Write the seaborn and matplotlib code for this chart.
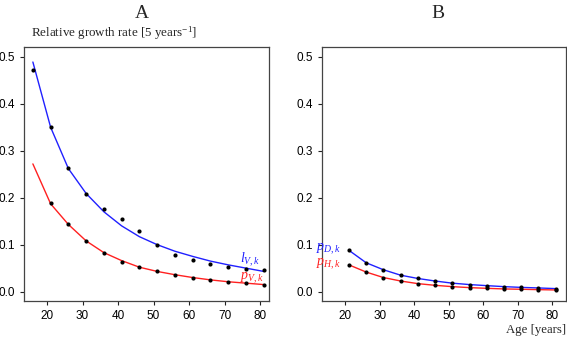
import numpy as np
import pandas as pd
import seaborn as sns
import matplotlib.pyplot as plt

# edades (centros de grupos de 5 años)
ages_a = [16, 21, 26, 31, 36, 41, 46, 51, 56, 61, 66, 71, 76, 81]
ages_b = [21, 26, 31, 36, 41, 46, 51, 56, 61, 66, 71, 76, 81]

# panel A: puntos observados y curvas ajustadas
lV_obs = [0.473, 0.351, 0.263, 0.208, 0.175, 0.154, 0.129, 0.100, 0.079, 0.068, 0.059, 0.053, 0.049, 0.046]
lV_fit = [0.489, 0.350, 0.262, 0.209, 0.170, 0.140, 0.117, 0.100, 0.086, 0.075, 0.065, 0.057, 0.050, 0.043]
pV_obs = [None, 0.188, 0.143, 0.108, 0.082, 0.064, 0.052, 0.043, 0.035, 0.030, 0.025, 0.021, 0.019, 0.014]
pV_fit = [0.272, 0.187, 0.143, 0.108, 0.083, 0.066, 0.052, 0.043, 0.036, 0.030, 0.025, 0.021, 0.018, 0.015]

# panel B
pD = [0.088, 0.0615, 0.0466, 0.035, 0.028, 0.0226, 0.018, 0.015, 0.0127, 0.0106, 0.009, 0.0078, 0.0064]
pH = [0.057, 0.0417, 0.030, 0.0226, 0.017, 0.0134, 0.0106, 0.0085, 0.007, 0.0057, 0.005, 0.0042, 0.0035]

sns.set_style("ticks")
plt.rcParams['font.family'] = ['Liberation Sans', 'DejaVu Sans']
plt.rcParams['mathtext.fontset'] = 'custom'
plt.rcParams['mathtext.rm'] = 'Liberation Serif'
plt.rcParams['mathtext.it'] = 'Liberation Serif:italic'

df_a = pd.DataFrame({'age': ages_a, 'lV_obs': lV_obs, 'lV_fit': lV_fit,
                     'pV_obs': pd.to_numeric(pd.Series(pV_obs)), 'pV_fit': pV_fit})
df_b = pd.DataFrame({'age': ages_b, 'pD': pD, 'pH': pH})

fig = plt.figure(figsize=(5.67, 3.39), dpi=100)
ax1 = fig.add_axes([24/567, 1-301/339, 245/567, 254/339])
ax2 = fig.add_axes([322/567, 1-301/339, 244/567, 254/339])

blue = '#2020ff'
red = '#ff2020'

sns.lineplot(data=df_a, x='age', y='lV_fit', color=blue, lw=1, ax=ax1)
sns.lineplot(data=df_a, x='age', y='pV_fit', color=red, lw=1, ax=ax1)
sns.scatterplot(data=df_a, x='age', y='lV_obs', color='black', s=9, linewidth=0, ax=ax1, zorder=3)
sns.scatterplot(data=df_a, x='age', y='pV_obs', color='black', s=9, linewidth=0, ax=ax1, zorder=3)

sns.lineplot(data=df_b, x='age', y='pD', color=blue, lw=1, ax=ax2)
sns.lineplot(data=df_b, x='age', y='pH', color=red, lw=1, ax=ax2)
sns.scatterplot(data=df_b, x='age', y='pD', color='black', s=9, linewidth=0, ax=ax2, zorder=3)
sns.scatterplot(data=df_b, x='age', y='pH', color='black', s=9, linewidth=0, ax=ax2, zorder=3)

for ax in (ax1, ax2):
    ax.set_xlim(13.5, 82.5)
    ax.set_ylim(-0.02, 0.521)
    ax.set_xticks([20, 30, 40, 50, 60, 70, 80])
    ax.set_yticks([0.0, 0.1, 0.2, 0.3, 0.4, 0.5])
    ax.set_yticklabels(['0.0', '0.1', '0.2', '0.3', '0.4', '0.5'])
    ax.set_xlabel('')
    ax.set_ylabel('')
    ax.tick_params(labelsize=8.5, length=3, width=0.8, colors='#222222', labelcolor='black')
    for s in ax.spines.values():
        s.set_color('#444444')
        s.set_linewidth(0.9)
ax2.set_xlim(13.2, 84)

ax1.text(74.4, 0.068, r'$l_{V,k}$', color=blue, fontsize=10, va='center', ha='left')
ax1.text(74.4, 0.028, r'$p_{V,k}$', color=red, fontsize=10, va='center', ha='left')
ax2.text(18.6, 0.089, r'$p_{D,k}$', color=blue, fontsize=10, va='center', ha='right')
ax2.text(18.6, 0.057, r'$p_{H,k}$', color=red, fontsize=10, va='center', ha='right')

fig.text(142/567, 1-14/339, 'A', family='Liberation Serif', fontsize=14, ha='center', va='center')
fig.text(438/567, 1-14/339, 'B', family='Liberation Serif', fontsize=14, ha='center', va='center')
fig.text(31/567, 1-33/339, r'Relative growth rate [5 years$^{-1}$]', family='Liberation Serif',
         fontsize=9.4, ha='left', va='center')
fig.text(566/567, 1-330/339, 'Age [years]', family='Liberation Serif', fontsize=9.2, ha='right', va='center')

fig.savefig('out.png', dpi=100)
